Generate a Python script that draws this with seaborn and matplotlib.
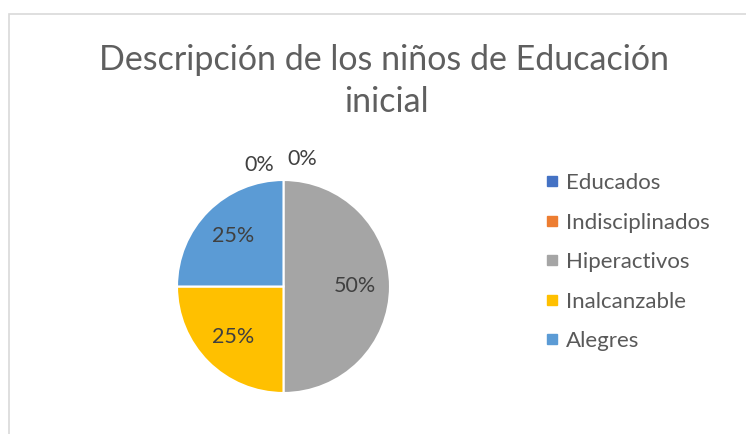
import matplotlib
matplotlib.use("Agg")
import matplotlib.pyplot as plt
import seaborn as sns
import numpy as np
from matplotlib.lines import Line2D
from matplotlib.patches import Rectangle

categories = ["Educados", "Indisciplinados", "Hiperactivos", "Inalcanzable", "Alegres"]
values = [0, 0, 50, 25, 25]
colors = ["#4472C4", "#ED7D31", "#A5A5A5", "#FFC000", "#5B9BD5"]
title_lines = ["Descripción de los niños de Educación", "inicial"]

sns.set_theme(style="white")
plt.rcParams["font.family"] = ["Lato", "DejaVu Sans"]

W, H = 746, 434
fig = plt.figure(figsize=(W / 100, H / 100), dpi=100)
fig.patch.set_facecolor("white")

# chart frame
fig.patches.append(Rectangle((8.5 / W, -0.01), (W + 10) / W, (H - 14) / H + 0.01,
                             transform=fig.transFigure, fill=False,
                             edgecolor="#D9D9D9", linewidth=1.2))

# title
fig.text(384 / W, 1 - 70 / H, title_lines[0], ha="center", va="baseline",
         fontsize=24.5, color="#5f5f5f")
fig.text(386 / W, 1 - 112 / H, title_lines[1], ha="center", va="baseline",
         fontsize=24.5, color="#5f5f5f")

# pie
cx, cy, r = 283.5, 286.5, 106.5
ax = fig.add_axes([(cx - r) / W, (H - cy - r) / H, 2 * r / W, 2 * r / H])
wedges, _ = ax.pie(values, colors=colors, startangle=90, counterclock=False,
                   radius=1, wedgeprops=dict(edgecolor="white", linewidth=1.5))
ax.set_xlim(-1, 1)
ax.set_ylim(-1, 1)
ax.set_aspect("auto")
ax.axis("off")

total = sum(values)
zero_offsets = [(-0.23, 1.14), (0.174, 1.20)]
zi = 0
for w, v in zip(wedges, values):
    pct = f"{round(100 * v / total)}%"
    if v == 0:
        x, y = zero_offsets[zi]
        zi += 1
    else:
        ang = np.deg2rad((w.theta1 + w.theta2) / 2)
        x, y = 0.67 * np.cos(ang), 0.67 * np.sin(ang)
    ax.text(x, y, pct, ha="center", va="center", fontsize=15.5, color="#404040",
            clip_on=False)

# legend
handles = [Line2D([0], [0], marker="s", linestyle="", markersize=6.5,
                  markerfacecolor=c, markeredgecolor=c) for c in colors]
leg = fig.legend(handles, categories, loc="upper left",
                 bbox_to_anchor=(546 / W, 1 - 173 / H), frameon=False,
                 fontsize=16, handlelength=0.55, handletextpad=0.35,
                 labelspacing=0.88, borderaxespad=0, borderpad=0)
for t in leg.get_texts():
    t.set_color("#595959")

fig.savefig("out.png", dpi=100, facecolor="white")
